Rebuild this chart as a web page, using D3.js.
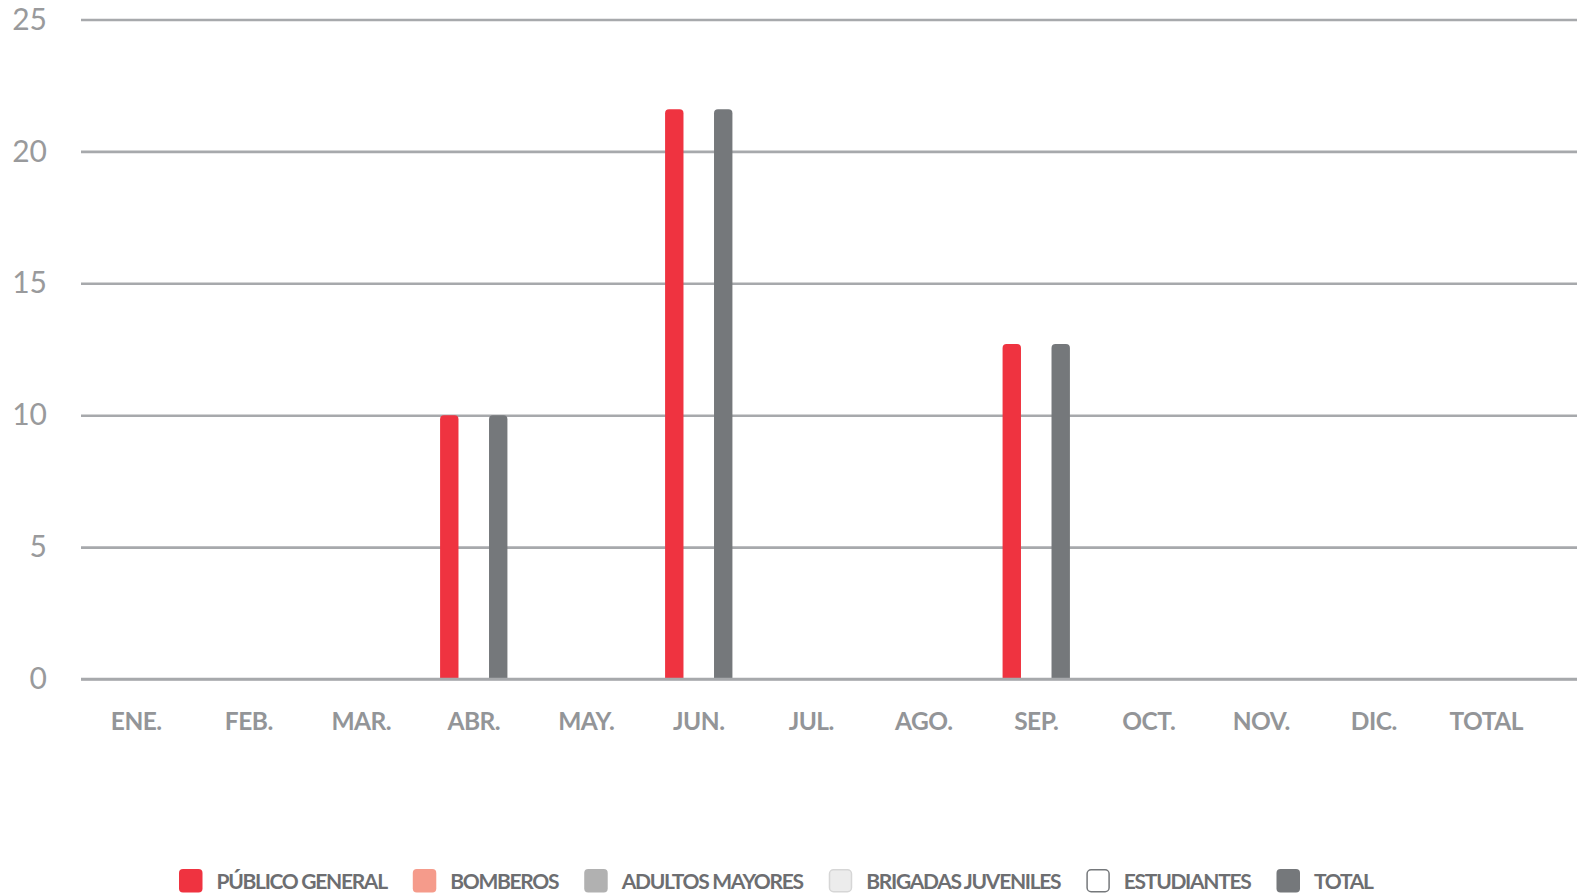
<!DOCTYPE html>
<html>
<head>
<meta charset="utf-8">
<script src="https://cdn.jsdelivr.net/npm/d3@7"></script>
<style>
  body { margin: 0; background: #fff; }
  svg { display: block; }
  text { font-family: Lato, "Open Sans", sans-serif; }
</style>
</head>
<body>
<div id="chart"></div>
<script>
const categories = ["ENE.", "FEB.", "MAR.", "ABR.", "MAY.", "JUN.", "JUL.", "AGO.", "SEP.", "OCT.", "NOV.", "DIC.", "TOTAL"];

const seriesNames = ["PÚBLICO GENERAL", "BOMBEROS", "ADULTOS MAYORES", "BRIGADAS JUVENILES", "ESTUDIANTES", "TOTAL"];

const publicoGeneral = [0, 0, 0, 10, 0, 21.6, 0, 0, 12.7, 0, 0, 0, null];
const bomberos = [0, 0, 0, 0, 0, 0, 0, 0, 0, 0, 0, 0, null];
const adultosMayores = [0, 0, 0, 0, 0, 0, 0, 0, 0, 0, 0, 0, null];
const brigadasJuveniles = [0, 0, 0, 0, 0, 0, 0, 0, 0, 0, 0, 0, null];
const estudiantes = [0, 0, 0, 0, 0, 0, 0, 0, 0, 0, 0, 0, null];
const total = [0, 0, 0, 10, 0, 21.6, 0, 0, 12.7, 0, 0, 0, null];

const yTicks = [0, 5, 10, 15, 20, 25];

const seriesColors = ["#ef3340", "#f59b8b", "#b1b1b1", "#ececec", "#ffffff", "#75787b"];
const seriesStrokes = ["none", "none", "none", "#d6d6d6", "#75787b", "none"];

const width = 1577;
const height = 895;
const margin = { left: 81, right: 0, top: 19.5, bottom: 216 };
const bandStart = 80;
const bandStep = 112.5;
const barWidth = 18.4;
const corner = 4;

const seriesValues = [publicoGeneral, bomberos, adultosMayores, brigadasJuveniles, estudiantes, total];
const series = seriesNames.map((name, i) => ({
  name: name,
  color: seriesColors[i],
  stroke: seriesStrokes[i],
  values: seriesValues[i],
}));

const svg = d3
  .select("#chart")
  .append("svg")
  .attr("width", width)
  .attr("height", height);

const xScale = d3
  .scaleBand()
  .domain(categories)
  .range([bandStart, bandStart + bandStep * categories.length])
  .paddingInner(0.13)
  .paddingOuter(0.065);

// only series that carry data take a slot in the group
const shown = series.filter((s) => s.values.some((v) => v));
const xzScale = d3
  .scaleBand()
  .domain(shown.map((s) => s.name))
  .range([0, xScale.bandwidth()]);

const yScale = d3
  .scaleLinear()
  .domain([0, 25])
  .range([height - margin.bottom, margin.top]);

const yAxis = d3
  .axisLeft(yScale)
  .tickValues(yTicks)
  .tickSize(-(width - margin.left))
  .tickPadding(34);

svg
  .append("g")
  .attr("class", "y-axis")
  .attr("transform", `translate(${margin.left},0)`)
  .call(yAxis)
  .call((g) => g.select(".domain").remove())
  .call((g) =>
    g.selectAll(".tick line").attr("stroke", "#a7a9ac").attr("stroke-width", 2.6)
  )
  .call((g) =>
    g
      .selectAll(".tick text")
      .attr("fill", "#999a9c")
      .attr("font-size", 30)
      .attr("font-family", "Lato, sans-serif")
  );

const barPath = (x, y0, y1, w, r) => {
  const h = y0 - y1;
  const rr = Math.min(r, h, w / 2);
  return `M${x},${y0}V${y1 + rr}Q${x},${y1} ${x + rr},${y1}H${x + w - rr}Q${x + w},${y1} ${x + w},${y1 + rr}V${y0}Z`;
};

const barGroup = svg.append("g").attr("class", "bars");

shown.forEach((s) => {
  barGroup
    .append("g")
    .selectAll("path")
    .data(categories.map((c, i) => ({ cat: c, value: s.values[i] })).filter((d) => d.value))
    .join("path")
    .attr("fill", s.color)
    .attr("d", (d) =>
      barPath(
        xScale(d.cat) + xzScale(s.name) + (xzScale.bandwidth() - barWidth) / 2,
        yScale(0),
        yScale(d.value),
        barWidth,
        corner
      )
    );
});

// redraw the zero line over bars
svg
  .append("line")
  .attr("x1", margin.left)
  .attr("x2", width)
  .attr("y1", yScale(0))
  .attr("y2", yScale(0))
  .attr("stroke", "#a7a9ac")
  .attr("stroke-width", 2.6);

const xAxis = d3.axisBottom(xScale).tickSize(0).tickPadding(34);

svg
  .append("g")
  .attr("class", "x-axis")
  .attr("transform", `translate(0,${yScale(0)})`)
  .call(xAxis)
  .call((g) => g.select(".domain").remove())
  .call((g) =>
    g
      .selectAll(".tick text")
      .attr("fill", "#939598")
      .attr("font-size", 24.5)
      .attr("font-weight", 700)
      .attr("letter-spacing", -0.5)
      .attr("font-family", "Lato, sans-serif")
  );

// legend
const legend = svg.append("g").attr("class", "legend");
let lx = 179;
const swatch = 23.5;
const legendTop = 869;
series.forEach((s) => {
  const item = legend.append("g").attr("transform", `translate(${lx},${legendTop})`);
  item
    .append("rect")
    .attr("x", s.stroke === "none" ? 0 : 0.75)
    .attr("y", s.stroke === "none" ? 0 : 0.75)
    .attr("width", s.stroke === "none" ? swatch : swatch - 1.5)
    .attr("height", s.stroke === "none" ? swatch : swatch - 1.5)
    .attr("rx", 4)
    .attr("fill", s.color)
    .attr("stroke", s.stroke)
    .attr("stroke-width", 1.5);
  const t = item
    .append("text")
    .attr("x", swatch + 14)
    .attr("y", 20)
    .attr("fill", "#6d6e71")
    .attr("font-size", 21)
    .attr("font-weight", 700)
    .attr("letter-spacing", -1.3)
    .text(s.name);
  lx += swatch + 14 + t.node().getComputedTextLength() + 26;
});
</script>
</body>
</html>
